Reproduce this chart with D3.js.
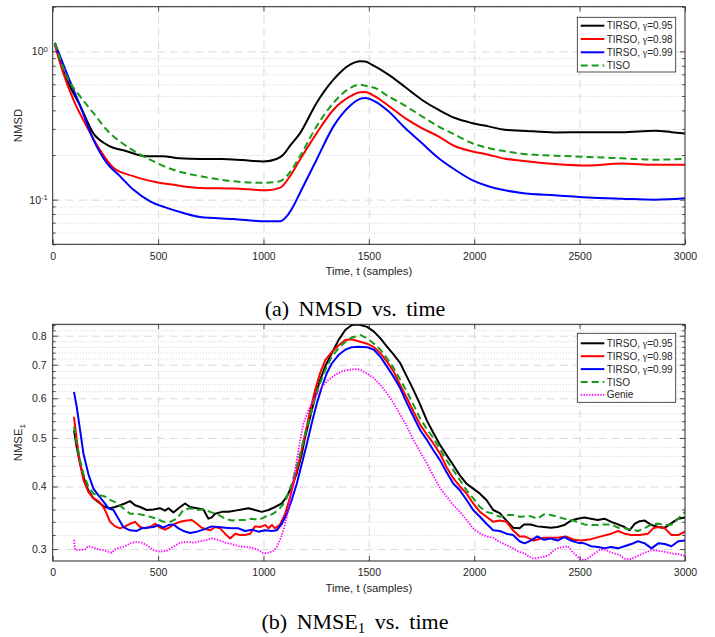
<!DOCTYPE html>
<html lang="en">
<head>
<meta charset="UTF-8">
<title>NMSD and NMSE vs time</title>
<script src="https://cdn.jsdelivr.net/npm/d3@7/dist/d3.min.js"></script>
<style>
    body {
        margin: 0;
        padding: 0;
        background: #fff;
    }
    svg text {
        font-family: "Liberation Sans", Arial, Helvetica, sans-serif;
        fill: #262626;
    }
    svg text.caption {
        font-family: "Liberation Serif", "Times New Roman", serif;
        fill: #000;
    }
</style>
</head>
<body>
<svg width="715" height="637" id="mainsvg"></svg>
<script>
    // ---- data ----
    const xTicks = [0, 500, 1000, 1500, 2000, 2500, 3000];
    const nmsdMajor = [0.1, 1];
    const nmsdMinor = [0.05, 0.06, 0.07, 0.08, 0.09, 0.2, 0.3, 0.4, 0.5, 0.6, 0.7, 0.8, 0.9, 2];
    const nmseMajor = [0.3, 0.4, 0.5, 0.6, 0.7, 0.8];
    const nmseMinor = [0.32, 0.34, 0.36, 0.38, 0.42, 0.44, 0.46, 0.48, 0.52, 0.54, 0.56, 0.58,
        0.62, 0.64, 0.66, 0.68, 0.72, 0.74, 0.76, 0.78, 0.82, 0.84];
    const seriesNames = ["TIRSO, γ=0.95", "TIRSO, γ=0.98", "TIRSO, γ=0.99", "TISO", "Genie"];

    // (a) NMSD, pairs of [t, value]
    const nmsd95 = [[10, 1.14], [43, 0.79], [82, 0.58], [130, 0.43], [193, 0.28], [256, 0.235], [351, 0.212],
        [446, 0.196], [520, 0.196], [600, 0.19], [700, 0.188], [800, 0.188], [900, 0.185], [1000, 0.181],
        [1062, 0.188], [1094, 0.201], [1130, 0.235], [1173, 0.28], [1252, 0.449], [1332, 0.644], [1411, 0.813],
        [1458, 0.857], [1482, 0.855], [1514, 0.813], [1593, 0.697], [1672, 0.575], [1751, 0.472], [1830, 0.404],
        [1909, 0.355], [1988, 0.329], [2067, 0.312], [2146, 0.296], [2225, 0.292], [2383, 0.284], [2541, 0.285],
        [2700, 0.285], [2858, 0.292], [2937, 0.285], [3000, 0.279]];
    const nmsd98 = [[10, 1.11], [50, 0.715], [98, 0.472], [161, 0.312], [224, 0.217], [288, 0.164], [382, 0.144],
        [493, 0.131], [572, 0.126], [699, 0.12], [857, 0.119], [1015, 0.1156], [1078, 0.12], [1126, 0.144],
        [1173, 0.186], [1252, 0.28], [1332, 0.404], [1411, 0.497], [1458, 0.53], [1482, 0.532], [1529, 0.497],
        [1593, 0.43], [1672, 0.355], [1751, 0.304], [1830, 0.267], [1909, 0.229], [1988, 0.212], [2067, 0.201],
        [2146, 0.189], [2225, 0.183], [2383, 0.174], [2541, 0.17], [2700, 0.175], [2858, 0.172], [3000, 0.172]];
    const nmsd99 = [[10, 1.14], [66, 0.715], [130, 0.43], [193, 0.254], [256, 0.177], [319, 0.144], [382, 0.117],
        [462, 0.0975], [541, 0.088], [620, 0.0813], [699, 0.0764], [857, 0.0741], [1015, 0.0714], [1078, 0.0714],
        [1110, 0.0771], [1141, 0.09], [1173, 0.111], [1252, 0.186], [1332, 0.312], [1411, 0.43], [1458, 0.478],
        [1482, 0.485], [1529, 0.46], [1593, 0.394], [1672, 0.304], [1751, 0.241], [1830, 0.191], [1909, 0.159],
        [1988, 0.136], [2067, 0.123], [2146, 0.1156], [2225, 0.111], [2383, 0.107], [2541, 0.1036], [2700, 0.1016],
        [2858, 0.1], [3000, 0.1023]];
    const nmsdTiso = [[10, 1.14], [66, 0.679], [130, 0.497], [193, 0.384], [256, 0.296], [351, 0.229], [462, 0.186],
        [572, 0.159], [699, 0.144], [857, 0.133], [1000, 0.13], [1078, 0.133], [1110, 0.144], [1173, 0.196],
        [1252, 0.312], [1332, 0.449], [1411, 0.566], [1458, 0.596], [1482, 0.587], [1529, 0.566], [1593, 0.497],
        [1672, 0.43], [1751, 0.365], [1830, 0.312], [1909, 0.274], [1988, 0.241], [2067, 0.223], [2146, 0.212],
        [2225, 0.204], [2383, 0.198], [2541, 0.194], [2700, 0.19], [2858, 0.186], [3000, 0.188]];

    // (b) NMSE_1
    const nmse95 = [[101, 0.518], [114, 0.479], [130, 0.444], [146, 0.418], [169, 0.393], [193, 0.379], [225, 0.37],
        [248, 0.364], [272, 0.362], [296, 0.364], [320, 0.367], [343, 0.37], [367, 0.374], [391, 0.367], [415, 0.364],
        [446, 0.359], [478, 0.36], [509, 0.362], [533, 0.358], [549, 0.362], [573, 0.355], [597, 0.362], [628, 0.37],
        [652, 0.364], [684, 0.362], [715, 0.36], [739, 0.345], [755, 0.347], [771, 0.353], [803, 0.356], [834, 0.356],
        [866, 0.358], [897, 0.36], [929, 0.362], [960, 0.359], [992, 0.356], [1024, 0.359], [1055, 0.364], [1087, 0.37],
        [1111, 0.382], [1134, 0.4], [1158, 0.425], [1182, 0.465], [1198, 0.503], [1222, 0.551], [1245, 0.605],
        [1269, 0.653], [1293, 0.695], [1324, 0.738], [1356, 0.784], [1388, 0.821], [1419, 0.84], [1451, 0.842],
        [1492, 0.833], [1524, 0.815], [1555, 0.79], [1586, 0.761], [1618, 0.733], [1649, 0.705], [1681, 0.662],
        [1712, 0.623], [1744, 0.582], [1775, 0.542], [1807, 0.511], [1838, 0.484], [1869, 0.462], [1901, 0.441],
        [1932, 0.421], [1964, 0.405], [1995, 0.396], [2027, 0.387], [2058, 0.376], [2090, 0.359], [2121, 0.354],
        [2153, 0.342], [2184, 0.331], [2215, 0.33], [2236, 0.336], [2268, 0.336], [2299, 0.333], [2331, 0.332],
        [2363, 0.331], [2395, 0.332], [2427, 0.335], [2459, 0.342], [2490, 0.345], [2522, 0.347], [2554, 0.345],
        [2586, 0.343], [2618, 0.345], [2650, 0.34], [2682, 0.336], [2713, 0.332], [2737, 0.327], [2761, 0.337],
        [2785, 0.341], [2809, 0.342], [2841, 0.335], [2873, 0.332], [2904, 0.331], [2936, 0.338], [2968, 0.345],
        [3000, 0.347]];
    const nmse98 = [[101, 0.551], [114, 0.496], [130, 0.444], [146, 0.412], [169, 0.39], [193, 0.379], [217, 0.374],
        [241, 0.364], [256, 0.353], [272, 0.34], [296, 0.333], [320, 0.33], [343, 0.333], [367, 0.337], [391, 0.34],
        [415, 0.332], [438, 0.33], [462, 0.332], [486, 0.337], [509, 0.331], [533, 0.328], [557, 0.332], [581, 0.337],
        [604, 0.34], [636, 0.342], [660, 0.343], [684, 0.337], [707, 0.331], [723, 0.329], [747, 0.327], [771, 0.332],
        [794, 0.33], [818, 0.322], [842, 0.315], [866, 0.322], [889, 0.32], [913, 0.32], [937, 0.322], [960, 0.333],
        [984, 0.332], [1008, 0.335], [1024, 0.33], [1040, 0.335], [1055, 0.33], [1079, 0.336], [1103, 0.353],
        [1127, 0.382], [1150, 0.418], [1174, 0.458], [1198, 0.51], [1222, 0.568], [1245, 0.623], [1269, 0.674],
        [1293, 0.715], [1324, 0.742], [1356, 0.765], [1388, 0.784], [1419, 0.787], [1451, 0.78], [1492, 0.771],
        [1524, 0.759], [1555, 0.738], [1586, 0.71], [1618, 0.678], [1649, 0.637], [1681, 0.6], [1712, 0.564],
        [1744, 0.531], [1775, 0.508], [1807, 0.487], [1838, 0.465], [1869, 0.437], [1901, 0.415], [1932, 0.4],
        [1964, 0.387], [1995, 0.37], [2027, 0.356], [2058, 0.348], [2090, 0.34], [2121, 0.342], [2153, 0.34],
        [2184, 0.327], [2215, 0.318], [2239, 0.318], [2283, 0.312], [2331, 0.316], [2395, 0.316], [2435, 0.318],
        [2475, 0.313], [2506, 0.312], [2554, 0.314], [2602, 0.318], [2650, 0.322], [2682, 0.326], [2713, 0.322],
        [2745, 0.32], [2785, 0.32], [2825, 0.322], [2849, 0.33], [2873, 0.332], [2904, 0.33], [2936, 0.32],
        [2968, 0.32], [3000, 0.325]];
    const nmse99 = [[101, 0.618], [114, 0.577], [130, 0.518], [146, 0.465], [169, 0.424], [193, 0.396], [217, 0.384],
        [241, 0.373], [264, 0.362], [288, 0.359], [312, 0.345], [335, 0.332], [367, 0.327], [399, 0.326], [422, 0.33],
        [446, 0.331], [478, 0.332], [502, 0.335], [525, 0.331], [549, 0.335], [573, 0.336], [597, 0.33], [620, 0.326],
        [652, 0.323], [684, 0.325], [715, 0.328], [755, 0.333], [786, 0.332], [818, 0.331], [850, 0.33], [881, 0.33],
        [913, 0.326], [945, 0.328], [976, 0.325], [1008, 0.327], [1040, 0.326], [1063, 0.327], [1087, 0.337],
        [1111, 0.353], [1134, 0.376], [1158, 0.405], [1182, 0.444], [1206, 0.487], [1229, 0.535], [1253, 0.586],
        [1277, 0.632], [1301, 0.674], [1324, 0.704], [1356, 0.732], [1388, 0.75], [1419, 0.759], [1451, 0.76],
        [1492, 0.759], [1524, 0.75], [1555, 0.726], [1586, 0.694], [1618, 0.662], [1649, 0.628], [1681, 0.586],
        [1712, 0.551], [1744, 0.518], [1775, 0.496], [1807, 0.472], [1838, 0.451], [1869, 0.427], [1901, 0.405],
        [1932, 0.393], [1964, 0.376], [1995, 0.359], [2027, 0.348], [2058, 0.337], [2090, 0.327], [2121, 0.326],
        [2153, 0.322], [2184, 0.32], [2215, 0.311], [2239, 0.308], [2268, 0.312], [2299, 0.318], [2331, 0.313],
        [2363, 0.315], [2395, 0.312], [2427, 0.317], [2459, 0.312], [2490, 0.309], [2522, 0.308], [2554, 0.304],
        [2586, 0.303], [2618, 0.301], [2650, 0.303], [2682, 0.301], [2713, 0.304], [2745, 0.307], [2777, 0.311],
        [2809, 0.308], [2841, 0.301], [2873, 0.308], [2904, 0.307], [2936, 0.304], [2968, 0.311], [3000, 0.312]];
    const nmseTiso = [[101, 0.527], [114, 0.487], [130, 0.451], [146, 0.424], [169, 0.4], [193, 0.387], [225, 0.384],
        [248, 0.382], [272, 0.376], [304, 0.371], [335, 0.362], [367, 0.353], [399, 0.353], [430, 0.351], [462, 0.348],
        [494, 0.345], [525, 0.34], [557, 0.34], [589, 0.345], [620, 0.359], [652, 0.362], [684, 0.359], [715, 0.36],
        [747, 0.356], [786, 0.351], [818, 0.345], [850, 0.342], [881, 0.343], [913, 0.343], [945, 0.345], [976, 0.343],
        [1008, 0.348], [1040, 0.352], [1071, 0.359], [1103, 0.373], [1134, 0.405], [1166, 0.451], [1198, 0.51],
        [1229, 0.568], [1261, 0.632], [1293, 0.683], [1324, 0.726], [1356, 0.755], [1388, 0.777], [1419, 0.794],
        [1451, 0.799], [1461, 0.802], [1492, 0.79], [1524, 0.771], [1555, 0.75], [1586, 0.721], [1618, 0.689],
        [1649, 0.653], [1681, 0.618], [1712, 0.582], [1744, 0.546], [1775, 0.521], [1807, 0.499], [1838, 0.474],
        [1869, 0.451], [1901, 0.431], [1932, 0.412], [1964, 0.393], [1995, 0.379], [2027, 0.364], [2058, 0.356],
        [2090, 0.353], [2121, 0.348], [2153, 0.351], [2184, 0.351], [2215, 0.348], [2268, 0.349], [2299, 0.345],
        [2331, 0.352], [2363, 0.351], [2395, 0.348], [2427, 0.345], [2459, 0.343], [2490, 0.34], [2522, 0.336],
        [2554, 0.335], [2586, 0.335], [2618, 0.336], [2650, 0.336], [2682, 0.331], [2713, 0.33], [2745, 0.328],
        [2777, 0.326], [2809, 0.33], [2841, 0.336], [2873, 0.337], [2904, 0.335], [2936, 0.336], [2968, 0.345],
        [3000, 0.356]];
    const nmseGenie = [[101, 0.313], [106, 0.299], [130, 0.299], [153, 0.2995], [169, 0.304], [193, 0.302],
        [217, 0.2995], [241, 0.2986], [264, 0.2963], [280, 0.295], [296, 0.2995], [320, 0.302], [343, 0.304],
        [375, 0.309], [399, 0.31], [422, 0.309], [446, 0.3055], [478, 0.2986], [509, 0.2963], [541, 0.2977],
        [573, 0.3032], [604, 0.309], [636, 0.31], [668, 0.309], [699, 0.311], [731, 0.313], [755, 0.315], [786, 0.313],
        [818, 0.309], [850, 0.307], [881, 0.304], [913, 0.303], [945, 0.302], [976, 0.2986], [1000, 0.294],
        [1024, 0.295], [1048, 0.2977], [1063, 0.303], [1079, 0.313], [1095, 0.327], [1111, 0.348], [1127, 0.376],
        [1142, 0.412], [1158, 0.451], [1174, 0.495], [1190, 0.535], [1214, 0.569], [1237, 0.595], [1261, 0.619],
        [1285, 0.638], [1309, 0.653], [1340, 0.668], [1372, 0.679], [1403, 0.684], [1435, 0.686], [1459, 0.684],
        [1492, 0.672], [1524, 0.658], [1555, 0.638], [1586, 0.614], [1618, 0.586], [1649, 0.556], [1681, 0.527],
        [1712, 0.495], [1744, 0.469], [1775, 0.445], [1807, 0.419], [1838, 0.397], [1869, 0.382], [1901, 0.367],
        [1932, 0.356], [1964, 0.343], [1995, 0.33], [2027, 0.3225], [2058, 0.318], [2090, 0.316], [2121, 0.31],
        [2153, 0.3055], [2184, 0.301], [2215, 0.296], [2239, 0.294], [2260, 0.2896], [2283, 0.287], [2307, 0.2886],
        [2331, 0.2896], [2355, 0.292], [2379, 0.2986], [2403, 0.302], [2427, 0.3032], [2443, 0.304], [2459, 0.2986],
        [2482, 0.292], [2498, 0.287], [2522, 0.285], [2546, 0.2886], [2570, 0.294], [2594, 0.2986], [2618, 0.2995],
        [2642, 0.2963], [2666, 0.294], [2689, 0.292], [2713, 0.287], [2737, 0.286], [2761, 0.2886], [2785, 0.292],
        [2809, 0.295], [2841, 0.2986], [2873, 0.2977], [2904, 0.2963], [2936, 0.294], [2968, 0.293], [3000, 0.2905]];

    // ---- styles ----
    const styles = [
        {color: "#000000", dash: null, width: 2},
        {color: "#ff0000", dash: null, width: 2},
        {color: "#0000ff", dash: null, width: 2},
        {color: "#1a9a1a", dash: "7,4", width: 2},
        {color: "#ff00ff", dash: "1.4,1.4", width: 1.8}
    ];
    const axisColor = "#262626";
    const left = 52.7, right = 685;

    const svg = d3.select("#mainsvg");
    const x = d3.scaleLinear().domain([0, 3000]).range([left, right]);

    const panels = [
        {
            id: "a", top: 6.7, bottom: 244.3, yDomain: [0.05, 2], major: nmsdMajor, minor: nmsdMinor,
            series: [nmsd95, nmsd98, nmsd99, nmsdTiso], curve: d3.curveMonotoneX,
            supLabels: true, ylabel: "NMSD", caption: "(a) NMSD vs. time", captionY: 316,
            legend: {x: 577.3, y: 17.3, w: 98.4, h: 54.7, row0: 25.7, step: 13.3}
        },
        {
            id: "b", top: 324.3, bottom: 561, yDomain: [0.284, 0.843], major: nmseMajor, minor: nmseMinor,
            series: [nmse95, nmse98, nmse99, nmseTiso, nmseGenie], curve: d3.curveLinear,
            supLabels: false, ylabel: "NMSE", caption: "(b) NMSE", captionY: 629,
            legend: {x: 577.3, y: 333.3, w: 98.4, h: 69, row0: 343.3, step: 12.9}
        }
    ];

    panels.forEach(drawPanel);

    function drawPanel(p) {
        const w = right - left, h = p.bottom - p.top;
        const y = d3.scaleLog().domain(p.yDomain).range([p.bottom, p.top]);
        const g = svg.append("g");

        g.append("rect").attr("x", left).attr("y", p.top).attr("width", w).attr("height", h).attr("fill", "#fff");

        // grid
        g.append("g").attr("transform", `translate(${left},0)`)
            .call(d3.axisLeft(y).tickValues(p.minor).tickSize(-w).tickFormat(""))
            .call(a => a.select(".domain").remove())
            .selectAll("line").attr("stroke", "#cfcfcf").attr("stroke-dasharray", "1,2");
        g.append("g").attr("transform", `translate(${left},0)`)
            .call(d3.axisLeft(y).tickValues(p.major).tickSize(-w).tickFormat(""))
            .call(a => a.select(".domain").remove())
            .selectAll("line").attr("stroke", "#d9d9d9").attr("stroke-dasharray", "8,5");
        g.append("g").attr("transform", `translate(0,${p.bottom})`)
            .call(d3.axisBottom(x).tickValues(xTicks.slice(1, -1)).tickSize(-h).tickFormat(""))
            .call(a => a.select(".domain").remove())
            .selectAll("line").attr("stroke", "#d9d9d9").attr("stroke-dasharray", "8,5");

        // curves
        svg.append("clipPath").attr("id", "clip" + p.id).append("rect")
            .attr("x", left).attr("y", p.top).attr("width", w).attr("height", h);
        const line = d3.line().x(d => x(d[0])).y(d => y(d[1])).curve(p.curve);
        const lines = g.append("g").attr("clip-path", `url(#clip${p.id})`);
        p.series.forEach((s, i) => {
            lines.append("path")
                .attr("d", line(s))
                .attr("fill", "none")
                .attr("stroke", styles[i].color)
                .attr("stroke-width", styles[i].width)
                .attr("stroke-dasharray", styles[i].dash)
                .attr("stroke-linejoin", "round");
        });

        // axes with inward ticks
        const ax = g.append("g").attr("color", axisColor);
        ax.append("g").attr("transform", `translate(0,${p.bottom})`)
            .call(d3.axisBottom(x).tickValues(xTicks).tickSize(-5).tickPadding(8).tickFormat(d3.format("d")))
            .call(a => a.select(".domain").remove());
        ax.append("g").attr("transform", `translate(0,${p.top})`)
            .call(d3.axisTop(x).tickValues(xTicks).tickSize(-5).tickFormat(""))
            .call(a => a.select(".domain").remove());
        const yl = ax.append("g").attr("transform", `translate(${left},0)`)
            .call(d3.axisLeft(y).tickValues(p.major).tickSize(-5).tickPadding(p.supLabels ? 5 : 6)
                .tickFormat(d => p.supLabels ? "" : d3.format(".1f")(d)))
            .call(a => a.select(".domain").remove());
        if (p.supLabels) {
            yl.selectAll(".tick text").each(function (d) {
                const t = d3.select(this);
                t.append("tspan").text("10");
                t.append("tspan").attr("dy", "-0.45em").attr("font-size", "7.5px")
                    .text(Math.round(Math.log10(d)) === 0 ? "0" : "-" + Math.abs(Math.round(Math.log10(d))));
            });
        }
        ax.append("g").attr("transform", `translate(${left},0)`)
            .call(d3.axisLeft(y).tickValues(p.minor).tickSize(-3).tickFormat(""))
            .call(a => a.select(".domain").remove());
        ax.append("g").attr("transform", `translate(${right},0)`)
            .call(d3.axisRight(y).tickValues(p.major).tickSize(-5).tickFormat(""))
            .call(a => a.select(".domain").remove());
        ax.append("g").attr("transform", `translate(${right},0)`)
            .call(d3.axisRight(y).tickValues(p.minor).tickSize(-3).tickFormat(""))
            .call(a => a.select(".domain").remove());
        ax.selectAll("text").attr("font-size", "10.5px").attr("font-family", null);
        ax.selectAll("line").attr("stroke-width", 0.8);

        g.append("rect").attr("x", left).attr("y", p.top).attr("width", w).attr("height", h)
            .attr("fill", "none").attr("stroke", axisColor).attr("stroke-width", 1);

        // axis labels
        g.append("text").attr("x", (left + right) / 2).attr("y", p.bottom + 30.5)
            .attr("text-anchor", "middle").attr("font-size", "11.3px").text("Time, t (samples)");
        const ylab = g.append("text")
            .attr("transform", `translate(22,${(p.top + p.bottom) / 2}) rotate(-90)`)
            .attr("text-anchor", "middle").attr("font-size", "11.3px").text(p.ylabel);
        if (p.id === "b") {
            ylab.append("tspan").attr("dy", "0.35em").attr("font-size", "8px").text("1");
        }

        // legend
        const L = p.legend;
        const lg = g.append("g");
        lg.append("rect").attr("x", L.x).attr("y", L.y).attr("width", L.w).attr("height", L.h)
            .attr("fill", "#fff").attr("stroke", axisColor).attr("stroke-width", 0.8);
        p.series.forEach((s, i) => {
            const cy = L.row0 + i * L.step;
            lg.append("line").attr("x1", L.x + 3.4).attr("x2", L.x + 27)
                .attr("y1", cy).attr("y2", cy)
                .attr("stroke", styles[i].color).attr("stroke-width", styles[i].width)
                .attr("stroke-dasharray", styles[i].dash);
            const txt = lg.append("text").attr("x", L.x + 29.4).attr("y", cy).attr("dy", "0.35em")
                .attr("font-size", "10px");
            const name = seriesNames[i];
            const k = name.indexOf("γ");
            if (k < 0) {
                txt.text(name);
            } else {
                txt.append("tspan").text(name.slice(0, k));
                txt.append("tspan").attr("font-family", "'Liberation Serif', serif").text("γ");
                txt.append("tspan").text(name.slice(k + 1));
            }
        });

        // caption
        const cap = svg.append("text").attr("class", "caption")
            .attr("x", 355).attr("y", p.captionY).attr("text-anchor", "middle")
            .attr("font-size", "22px").attr("word-spacing", "4px");
        if (p.id === "b") {
            cap.append("tspan").text("(b) NMSE");
            cap.append("tspan").attr("dy", "4").attr("font-size", "15px").text("1");
            cap.append("tspan").attr("dy", "-4").text(" vs. time");
        } else {
            cap.text(p.caption);
        }
    }
</script>
</body>
</html>
